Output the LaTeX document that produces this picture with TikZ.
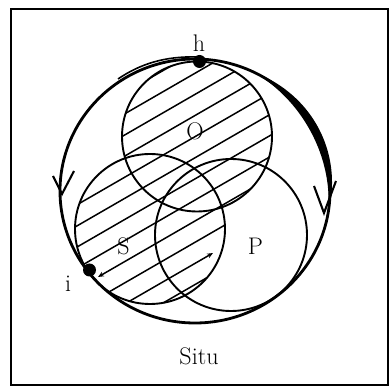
\documentclass[tikz,border=0pt]{standalone}
\usetikzlibrary{arrows.meta}
\begin{document}
\begin{tikzpicture}[x=1pt,y=-1pt,
  bigloop/.style={line width=2.8pt},
  ring/.style={line width=1.9pt},
  hatch/.style={line width=1.5pt},
  barb/.style={line width=2.1pt, line join=miter},
  lbl/.style={font=\fontsize{24}{28}\selectfont, inner sep=0pt, anchor=base},
  dot/.style={circle, fill=black, inner sep=0pt, minimum size=13pt},
  tip/.style={-{Stealth[length=6pt,width=5pt]}}]
\useasboundingbox (0,0) rectangle (391,387);
\draw[line width=2pt] (11,9) rectangle (388,385);

% hatching of O and S
\begin{scope}
  \clip (197,136.5) circle[radius=75pt] (150,229) circle[radius=75pt];
  \foreach \k in {-8,-7,-6,-5,-4,-3,-2,-1,0,2,4,5}{
    \pgfmathsetmacro\px{195+0.5*(6.1+18.3*\k)}
    \pgfmathsetmacro\py{193+0.866*(6.1+18.3*\k)}
    \draw[hatch] ({\px-173.2},{\py+100}) -- ({\px+173.2},{\py-100});
  }
  \coordinate (a1) at (98,277);
  \coordinate (a1far) at (398,103.8);
  \draw[hatch, {Stealth[length=6pt,width=5pt]}-] (a1) -- (a1far);
  \coordinate (a3far) at (-87,426.2);
  \coordinate (a3) at (213,253);
  \draw[hatch, tip] (a3far) -- (a3);
\end{scope}

% circles O, S, P
\draw[ring] (197,136.5) circle[radius=75pt];
\draw[ring] (150,229) circle[radius=75pt];
\draw[ring] (231,235) circle[radius=76pt];

% big loop
\draw[bigloop] (195,191) ellipse[x radius=135pt, y radius=132pt];
% thickened right part
\fill plot[domain=65:-10, samples=50] ({195+(135+0.5*8.5*sin((65-\x)*180/75))*cos(\x)},{191-(132+0.5*8.5*sin((65-\x)*180/75))*sin(\x)})
  -- plot[domain=-10:65, samples=50] ({195+(135-0.5*8.5*sin((65-\x)*180/75))*cos(\x)},{191-(132-0.5*8.5*sin((65-\x)*180/75))*sin(\x)}) -- cycle;
% doubled stroke near h
\draw[line width=1.6pt] (118,79) .. controls (140,64) and (165,56) .. (197,57);

% barbs on the loop
\draw[barb] (53,176) -- (62,194) -- (74,171);
\draw[barb] (314,186) -- (324,213) -- (336,181);

% points
\node[dot] (h) at (199.5,61.5) {};
\node[dot] (i) at (89.5,270) {};

% labels
\node[lbl] (lh) at (199,52) {h};
\node[lbl] (li) at (68,292) {i};
\node[lbl] (lO) at (195,140) {O};
\node[lbl] (lS) at (123.5,255) {S};
\node[lbl] (lP) at (255.5,255) {P};
\node[lbl] (lsitu) at (199,365) {Situ};
\end{tikzpicture}
\end{document}
